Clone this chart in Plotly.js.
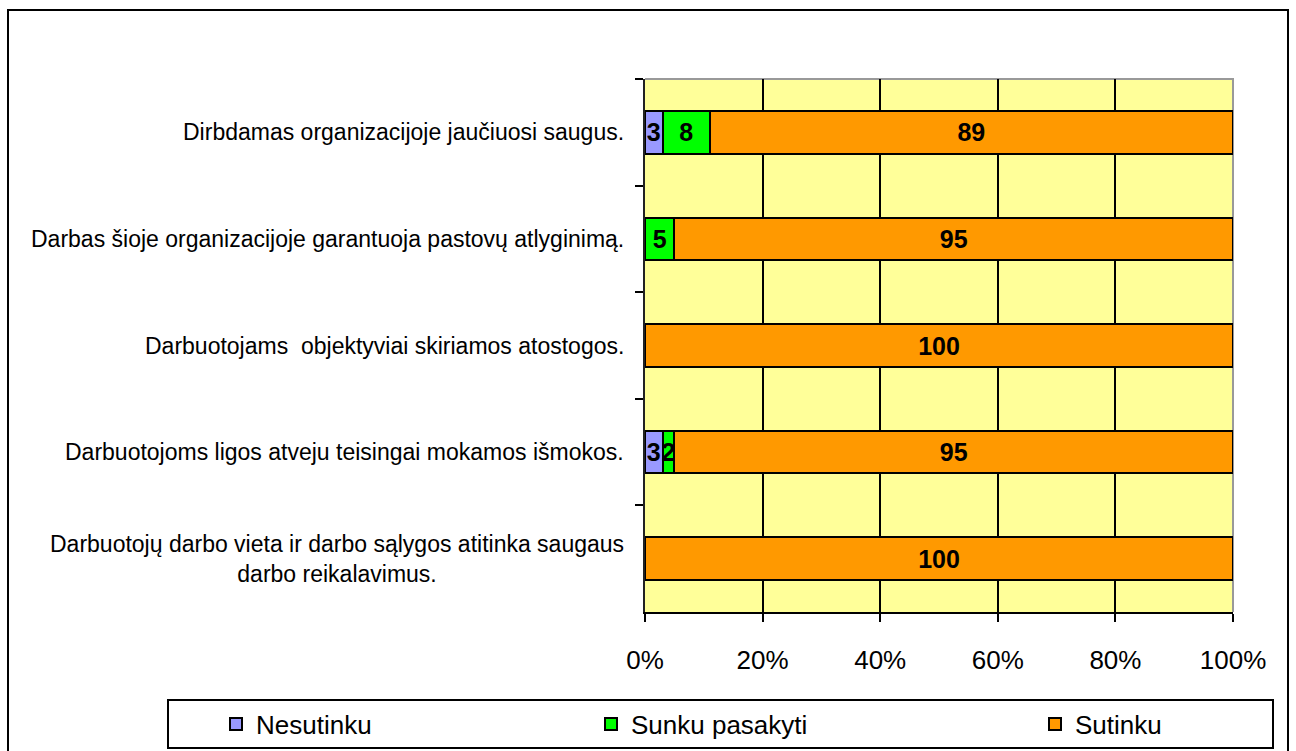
<!DOCTYPE html>
<html>
<head>
<meta charset="utf-8">
<script src="https://cdn.plot.ly/plotly-3.0.1.min.js"></script>
<style>
  html, body { margin: 0; padding: 0; background: #ffffff; }
  #chart { width: 1296px; height: 751px; }
</style>
</head>
<body>
<div id="chart"></div>
<script>
// Survey statements (top to bottom)
const categories = [
  'Dirbdamas organizacijoje jaučiuosi saugus.',
  'Darbas šioje organizacijoje garantuoja pastovų atlyginimą.',
  'Darbuotojams  objektyviai skiriamos atostogos.',
  'Darbuotojoms ligos atveju teisingai mokamos išmokos.',
  'Darbuotojų darbo vieta ir darbo sąlygos atitinka saugaus<br>darbo reikalavimus.'
];

// Share of answers, %
const nesutinku = [3, 0, 0, 3, 0];
const sunkuPasakyti = [8, 5, 0, 2, 0];
const sutinku = [89, 95, 100, 95, 100];

const seriesNames = ['Nesutinku', 'Sunku pasakyti', 'Sutinku'];
const seriesColors = ['#9999FF', '#00FF00', '#FF9900'];
const seriesValues = [nesutinku, sunkuPasakyti, sutinku];
const legendIds = ['legend', 'legend2', 'legend3'];

const FONT = 'Liberation Sans, Arial, sans-serif';

const traces = seriesValues.map((vals, i) => ({
  type: 'bar',
  orientation: 'h',
  name: seriesNames[i],
  y: categories,
  x: vals,
  text: vals.map(v => (v ? String(v) : '')),
  textposition: 'inside',
  insidetextanchor: 'middle',
  textangle: 0,
  constraintext: 'none',
  textfont: { family: FONT, size: 25, color: '#000000', weight: 'bold' },
  marker: { color: seriesColors[i], line: { color: '#000000', width: 2 } },
  legend: legendIds[i],
  hoverinfo: 'x+name'
}));

// Category labels, centred line by line, to the left of the plot
const labelAnnotations = categories.map((c, i) => ({
  xref: 'paper', yref: 'y',
  x: 0, y: i,
  xanchor: 'right', yanchor: 'middle',
  xshift: -19,
  align: 'center',
  showarrow: false,
  text: c,
  font: { family: FONT, size: 23, color: '#000000' }
}));

const FW = 1296, FH = 751;
const W = 588, H = 533, L = 645, T = 79;
const px = v => (v - L) / W;
const py = v => (T + H - v) / H;

// Legend entries are placed in container coordinates so they do not push the margins
const legendBase = {
  orientation: 'h',
  xref: 'container',
  yref: 'container',
  yanchor: 'middle',
  xanchor: 'left',
  y: (FH - 724) / FH,
  bgcolor: 'rgba(0,0,0,0)',
  borderwidth: 0,
  font: { family: FONT, size: 26, color: '#000000' }
};

const layout = {
  width: FW,
  height: FH,
  margin: { l: L, r: FW - L - W, t: T, b: FH - T - H, pad: 0, autoexpand: false },
  paper_bgcolor: '#ffffff',
  plot_bgcolor: '#FFFF99',
  barmode: 'stack',
  bargap: 0.6,
  showlegend: true,
  legend: Object.assign({}, legendBase, { x: 216 / FW }),
  legend2: Object.assign({}, legendBase, { x: 591 / FW }),
  legend3: Object.assign({}, legendBase, { x: 1035 / FW }),
  uniformtext: { mode: 'show', minsize: 25 },
  xaxis: {
    range: [0, 100],
    dtick: 20,
    tick0: 0,
    ticksuffix: '%',
    showgrid: true,
    gridcolor: '#000000',
    gridwidth: 2,
    zeroline: false,
    showline: true,
    linecolor: '#000000',
    linewidth: 2,
    ticks: 'outside',
    ticklen: 8,
    tickwidth: 2,
    tickcolor: '#000000',
    ticklabelstandoff: 16,
    tickfont: { family: FONT, size: 26, color: '#000000' },
    automargin: false,
    fixedrange: true
  },
  yaxis: {
    type: 'category',
    categoryorder: 'array',
    categoryarray: categories,
    range: [4.5, -0.5],
    tickson: 'boundaries',
    ticks: 'outside',
    ticklen: 8,
    tickwidth: 2,
    tickcolor: '#000000',
    showticklabels: false,
    showgrid: false,
    zeroline: false,
    showline: true,
    linecolor: '#222222',
    linewidth: 2,
    automargin: false,
    fixedrange: true
  },
  annotations: labelAnnotations,
  shapes: [
    // grey frame on the top and right of the plot area
    { type: 'path', xref: 'x domain', yref: 'y domain', layer: 'below',
      path: 'M0,1 L1,1 L1,0', line: { color: '#999999', width: 2 } },
    // legend box
    { type: 'rect', xref: 'paper', yref: 'paper', layer: 'below',
      x0: px(168), x1: px(1273), y0: py(748), y1: py(700),
      line: { color: '#000000', width: 2 }, fillcolor: 'rgba(0,0,0,0)' },
    // chart border
    { type: 'rect', xref: 'paper', yref: 'paper', layer: 'below',
      x0: px(8), x1: px(1288), y0: py(770), y1: py(10),
      line: { color: '#000000', width: 2 }, fillcolor: 'rgba(0,0,0,0)' }
  ]
};

Plotly.newPlot('chart', traces, layout, { displayModeBar: false, staticPlot: true });
</script>
</body>
</html>
